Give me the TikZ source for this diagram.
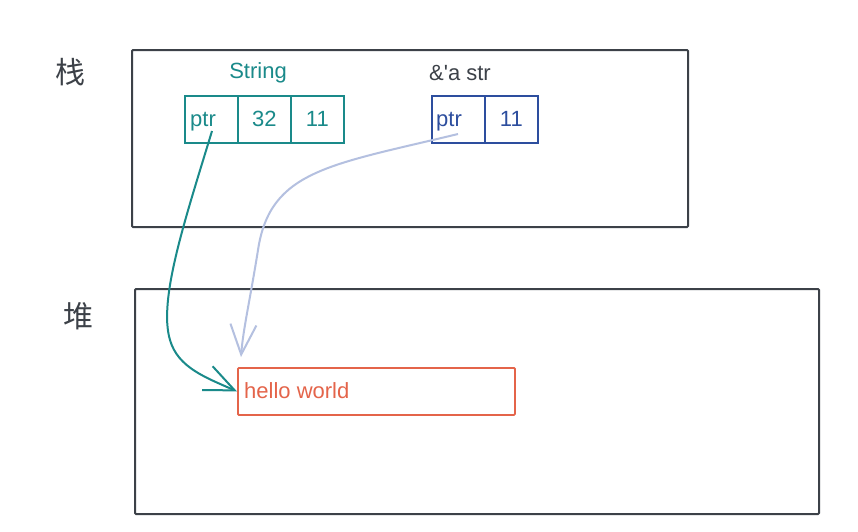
\documentclass[tikz,border=0pt]{standalone}
\usepackage{fontspec}
\setmainfont{Liberation Sans}
\newfontfamily\rawsans{Liberation Sans}
\newfontfamily\cjk{Noto Sans CJK SC}
\usetikzlibrary{arrows.meta}
\definecolor{frame}{HTML}{3C4148}
\definecolor{tealc}{HTML}{1A8A8A}
\definecolor{bluec}{HTML}{2D4E9E}
\definecolor{redc}{HTML}{E4644A}
\definecolor{lightb}{HTML}{B4C0E0}
\tikzset{
  area/.style={draw=frame, line width=2pt, rounded corners=1pt},
  cell/.style={draw, line width=1.8pt, minimum width=53pt, minimum height=47pt, anchor=north west, inner sep=0pt, font=\fontsize{22}{25}\selectfont},
  celltext/.style={anchor=base west, inner sep=0pt, font=\fontsize{22}{25}\selectfont},
  lbl/.style={font=\fontsize{22}{25}\selectfont},
  cjklbl/.style={font=\cjk\fontsize{30}{33}\selectfont, text=frame},
  ptrarrow/.style={line width=2pt, -{Straight Barb[length=30pt,width=26pt,line width=2pt]}}
}
\begin{document}
\begin{tikzpicture}[x=1pt,y=-1pt]
\useasboundingbox (0,0) rectangle (858,531);
\fill[white] (0,0) rectangle (858,531);
% regions
\node[area, minimum width=556pt, minimum height=177pt, inner sep=0pt] (stack) at (410,138.5) {};
\node[area, minimum width=684pt, minimum height=225pt, inner sep=0pt] (heap) at (477,401.5) {};
\node[cjklbl] (stacklbl) at (70,72) {栈};
\node[cjklbl] (heaplbl) at (78,316) {堆};
% String
\node[lbl, text=tealc] (strlbl) at (258,73) {String};
\node[cell, draw=tealc, text=tealc] (scap) at (237,95) {32};
\node[cell, draw=tealc, text=tealc] (slen) at (290,95) {11};
\node[cell, draw=tealc] (sptr) at (184,95) {};
\node[celltext, text=tealc] (sptrtxt) at ([xshift=6pt]sptr.west |- scap.base) {ptr};
% &'a str
\node[lbl, text=frame, font=\rawsans\fontsize{22}{25}\selectfont] (reflbl) at (460,73) {\&'a str};
\node[cell, draw=bluec, text=bluec] (rlen) at (484,95) {11};
\node[cell, draw=bluec] (rptr) at (431,95) {};
\node[celltext, text=bluec] (rptrtxt) at ([xshift=5pt]rptr.west |- rlen.base) {ptr};
% heap data
\node[draw=redc, line width=1.8pt, rounded corners=1pt, minimum width=277pt, minimum height=47pt, anchor=north west, inner sep=0pt] (hello) at (237,367) {};
\node[lbl, text=redc, anchor=west, inner sep=0pt] (hellotxt) at (244,391) {hello world};
% arrows
\coordinate (t0) at (212,131);
\coordinate (b0) at (458,134);
\coordinate (btip) at (241,357);
\draw[ptrarrow, draw=tealc] (t0) .. controls (185,220) and (158,300) .. (170,340) .. controls (178,368) and (207,378) .. (hello.west);
\draw[ptrarrow, draw=lightb] (b0) .. controls (330,165) and (270,170) .. (258,250) .. controls (250,300) and (243,330) .. (btip);
\end{tikzpicture}
\end{document}
